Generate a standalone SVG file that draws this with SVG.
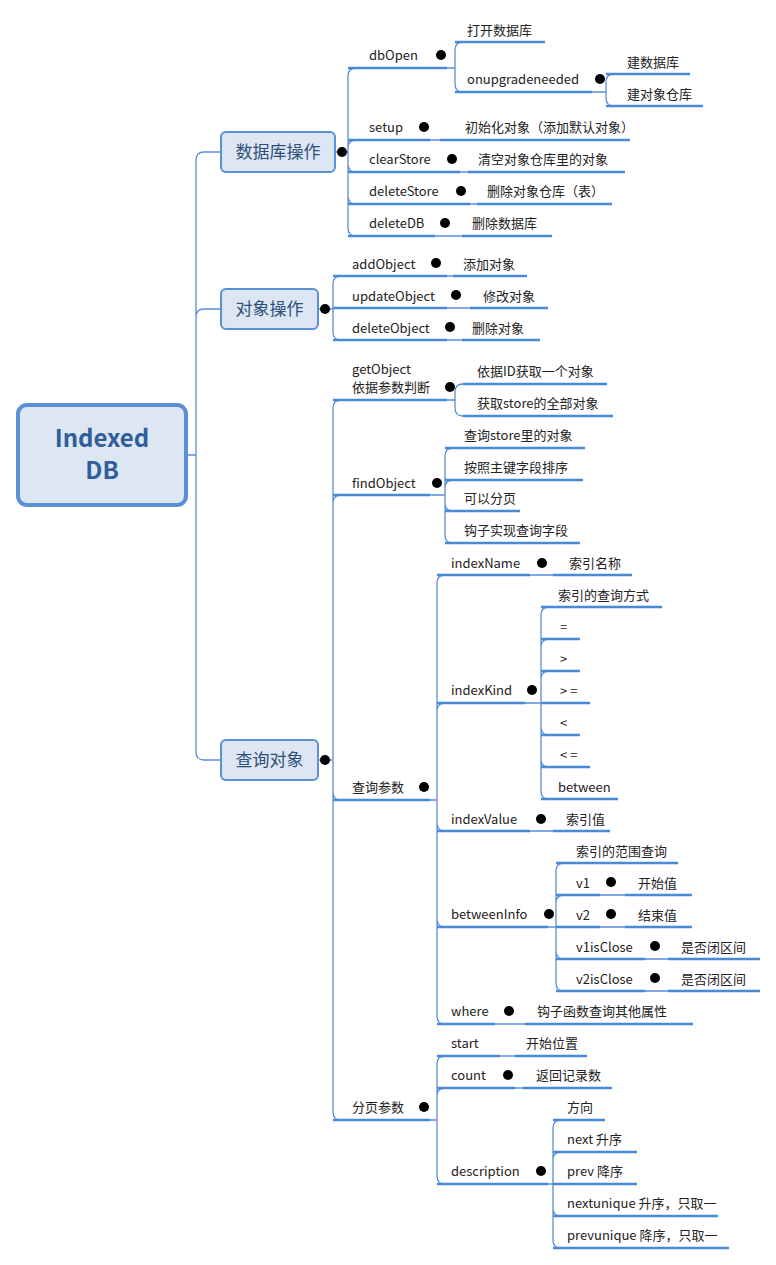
<svg xmlns="http://www.w3.org/2000/svg" width="776" height="1265" viewBox="0 0 776 1265">
<style>
text{font-family:"Microsoft YaHei","Noto Sans CJK SC","Liberation Sans",sans-serif;font-size:13px;fill:#222}
.c path{fill:none;stroke:#5b8fd6;stroke-width:1.3}
.u{stroke:#4a88d8;stroke-width:2.6}
.l1 rect{fill:#dde6f3;stroke:#5b8fd6;stroke-width:2}
.l1 text{font-size:17px;fill:#2f4f7a}
.k circle{fill:#fff;stroke:#b8b8b8;stroke-width:1}
.k line{stroke:#a0a0a0;stroke-width:1}
</style>
<defs>
<g id="m"><circle r="5"/><line x1="-2.5" x2="2.5" y1="0" y2="0"/></g>
</defs>
<rect width="776" height="1265" fill="#fff"/>
<g class="c">
<path d="M186 455H196V160Q196 152 204 152H221M186 455H196V317Q196 309 204 309H221M186 455H196V752Q196 760 204 760H221"/>
<path d="M335 152H348V76Q348 68 356 68M335 152H348V148Q348 140 356 140M335 152H348V164Q348 172 356 172M335 152H348V196Q348 204 356 204M335 152H348V228Q348 236 356 236"/>
<path d="M447 68H455V50Q455 42 463 42M447 68H455V84Q455 92 463 92M592 92H606V82Q606 74 614 74M592 92H606V98Q606 106 614 106"/>
<path d="M430 140H440M460 172H468M470 204H477M435 236H462"/>
<path d="M318 309H333V284Q333 276 341 276M318 309H333V308H341M318 309H333V332Q333 340 341 340M447 276H453M447 308H470M447 340H462"/>
<path d="M318 760H333V408Q333 400 341 400M318 760H333V503Q333 495 341 495M318 760H333V792Q333 800 341 800M318 760H333V1112Q333 1120 341 1120"/>
<path d="M447 400H455V392Q455 384 463 384M447 400H455V408Q455 416 463 416"/>
<path d="M430 495H445V456Q445 448 453 448M430 495H445V488Q445 480 453 480M430 495H445V503Q445 511 453 511M430 495H445V535Q445 543 453 543"/>
<path d="M430 800H437V583Q437 575 445 575M430 800H437V711Q437 703 445 703M430 800H437V823Q437 831 445 831M430 800H437V919Q437 927 445 927M430 800H437V1016Q437 1024 445 1024"/>
<path d="M530 575H553M530 831H553M495 1024H525"/>
<path d="M525 703H541V615Q541 607 549 607M525 703H541V647Q541 639 549 639M525 703H541V679Q541 671 549 671M525 703H549M525 703H541V727Q541 735 549 735M525 703H541V759Q541 767 549 767M525 703H541V791Q541 799 549 799"/>
<path d="M548 927H556V871Q556 863 564 863M548 927H556V903Q556 895 564 895M548 927H564M548 927H556V951Q556 959 564 959M548 927H556V983Q556 991 564 991"/>
<path d="M600 895H625M600 927H625M645 959H668M645 991H668"/>
<path d="M430 1120H437V1064Q437 1056 445 1056M430 1120H437V1096Q437 1088 445 1088M430 1120H437V1176Q437 1184 445 1184M500 1056H515M515 1088H523"/>
<path d="M548 1184H553V1128Q553 1120 561 1120M548 1184H553V1160Q553 1152 561 1152M548 1184H561M548 1184H553V1208Q553 1216 561 1216M548 1184H553V1240Q553 1248 561 1248"/>
</g>
<g id="root">
<rect x="18" y="405" width="168" height="100" rx="9" fill="#dde6f3" stroke="#5b8fd6" stroke-width="4"/>
<text x="102" y="447" text-anchor="middle" style="font-size:24px;font-weight:bold;fill:#2f5e9a">Indexed</text>
<text x="102" y="479" text-anchor="middle" style="font-size:24px;font-weight:bold;fill:#2f5e9a">DB</text>
</g>
<g id="n-db" class="l1"><rect x="221" y="132" width="114" height="40" rx="5"/><text x="278" y="158" text-anchor="middle">数据库操作</text></g>
<g id="n-obj" class="l1"><rect x="221" y="289" width="97" height="40" rx="5"/><text x="269.5" y="315" text-anchor="middle">对象操作</text></g>
<g id="n-q" class="l1"><rect x="221" y="740" width="97" height="40" rx="5"/><text x="269.5" y="766" text-anchor="middle">查询对象</text></g>
<g class="k">
<use href="#m" x="342" y="152"/><use href="#m" x="325" y="309"/><use href="#m" x="325" y="760"/>
<use href="#m" x="441" y="55"/><use href="#m" x="600" y="79"/><use href="#m" x="424" y="127"/><use href="#m" x="452" y="159"/><use href="#m" x="461" y="191"/><use href="#m" x="445" y="223"/>
<use href="#m" x="436" y="263"/><use href="#m" x="456" y="295"/><use href="#m" x="450" y="327"/>
<use href="#m" x="450" y="387"/><use href="#m" x="437" y="483"/><use href="#m" x="424" y="787"/><use href="#m" x="424" y="1107"/>
<use href="#m" x="542" y="563"/><use href="#m" x="532" y="690"/><use href="#m" x="541" y="819"/><use href="#m" x="549" y="914"/><use href="#m" x="509" y="1011"/>
<use href="#m" x="611" y="882"/><use href="#m" x="611" y="914"/><use href="#m" x="655" y="946"/><use href="#m" x="655" y="978"/>
<use href="#m" x="508" y="1075"/><use href="#m" x="541" y="1171"/>
</g>
<g id="leaves">
<g id="dbOpen"><text x="369" y="60">dbOpen</text><line class="u" x1="348" x2="447" y1="68" y2="68"/></g>
<g id="open"><text x="467" y="35">打开数据库</text><line class="u" x1="455" x2="545" y1="42" y2="42"/></g>
<g id="onup"><text x="467" y="84">onupgradeneeded</text><line class="u" x1="455" x2="592" y1="92" y2="92"/></g>
<g id="mkdb"><text x="627" y="67">建数据库</text><line class="u" x1="606" x2="690" y1="74" y2="74"/></g>
<g id="mkstore"><text x="627" y="99">建对象仓库</text><line class="u" x1="606" x2="703" y1="106" y2="106"/></g>
<g id="setup"><text x="369" y="132">setup</text><line class="u" x1="348" x2="430" y1="140" y2="140"/></g>
<g id="setup1"><text x="465" y="132">初始化对象（添加默认对象）</text><line class="u" x1="440" x2="630" y1="140" y2="140"/></g>
<g id="clear"><text x="369" y="164">clearStore</text><line class="u" x1="348" x2="460" y1="172" y2="172"/></g>
<g id="clear1"><text x="478" y="164">清空对象仓库里的对象</text><line class="u" x1="468" x2="625" y1="172" y2="172"/></g>
<g id="dels"><text x="369" y="196">deleteStore</text><line class="u" x1="348" x2="470" y1="204" y2="204"/></g>
<g id="dels1"><text x="487" y="196">删除对象仓库（表）</text><line class="u" x1="477" x2="612" y1="204" y2="204"/></g>
<g id="deldb"><text x="369" y="228">deleteDB</text><line class="u" x1="348" x2="435" y1="236" y2="236"/></g>
<g id="deldb1"><text x="472" y="228">删除数据库</text><line class="u" x1="462" x2="552" y1="236" y2="236"/></g>
<g id="add"><text x="352" y="269">addObject</text><line class="u" x1="333" x2="447" y1="276" y2="276"/></g>
<g id="add1"><text x="463" y="269">添加对象</text><line class="u" x1="453" x2="527" y1="276" y2="276"/></g>
<g id="upd"><text x="352" y="301">updateObject</text><line class="u" x1="333" x2="447" y1="308" y2="308"/></g>
<g id="upd1"><text x="483" y="301">修改对象</text><line class="u" x1="470" x2="548" y1="308" y2="308"/></g>
<g id="delo"><text x="352" y="333">deleteObject</text><line class="u" x1="333" x2="447" y1="340" y2="340"/></g>
<g id="delo1"><text x="472" y="333">删除对象</text><line class="u" x1="462" x2="540" y1="340" y2="340"/></g>
<g id="get"><text x="352" y="374">getObject</text><text x="352" y="392">依据参数判断</text><line class="u" x1="333" x2="447" y1="400" y2="400"/></g>
<g id="get1"><text x="477" y="376">依据ID获取一个对象</text><line class="u" x1="463" x2="607" y1="384" y2="384"/></g>
<g id="get2"><text x="477" y="408">获取store的全部对象</text><line class="u" x1="463" x2="613" y1="416" y2="416"/></g>
<g id="find"><text x="352" y="488">findObject</text><line class="u" x1="333" x2="430" y1="495" y2="495"/></g>
<g id="find1"><text x="464" y="440">查询store里的对象</text><line class="u" x1="445" x2="585" y1="448" y2="448"/></g>
<g id="find2"><text x="464" y="472">按照主键字段排序</text><line class="u" x1="445" x2="583" y1="480" y2="480"/></g>
<g id="find3"><text x="464" y="503">可以分页</text><line class="u" x1="445" x2="520" y1="511" y2="511"/></g>
<g id="find4"><text x="464" y="535">钩子实现查询字段</text><line class="u" x1="445" x2="580" y1="543" y2="543"/></g>
<g id="qp"><text x="352" y="792">查询参数</text><line class="u" x1="333" x2="430" y1="800" y2="800"/></g>
<g id="iname"><text x="451" y="568">indexName</text><line class="u" x1="437" x2="530" y1="575" y2="575"/></g>
<g id="iname1"><text x="569" y="568">索引名称</text><line class="u" x1="553" x2="632" y1="575" y2="575"/></g>
<g id="ikind"><text x="451" y="695">indexKind</text><line class="u" x1="437" x2="525" y1="703" y2="703"/></g>
<g id="k0"><text x="558" y="600">索引的查询方式</text><line class="u" x1="541" x2="662" y1="607" y2="607"/></g>
<g id="k1"><text x="560" y="632">=</text><line class="u" x1="541" x2="580" y1="639" y2="639"/></g>
<g id="k2"><text x="560" y="664">&gt;</text><line class="u" x1="541" x2="580" y1="671" y2="671"/></g>
<g id="k3"><text x="560" y="696">&gt; =</text><line class="u" x1="541" x2="590" y1="703" y2="703"/></g>
<g id="k4"><text x="560" y="728">&lt;</text><line class="u" x1="541" x2="580" y1="735" y2="735"/></g>
<g id="k5"><text x="560" y="760">&lt; =</text><line class="u" x1="541" x2="590" y1="767" y2="767"/></g>
<g id="k6"><text x="558" y="792">between</text><line class="u" x1="541" x2="618" y1="799" y2="799"/></g>
<g id="ival"><text x="451" y="824">indexValue</text><line class="u" x1="437" x2="530" y1="831" y2="831"/></g>
<g id="ival1"><text x="566" y="824">索引值</text><line class="u" x1="553" x2="610" y1="831" y2="831"/></g>
<g id="bi"><text x="451" y="919">betweenInfo</text><line class="u" x1="437" x2="548" y1="927" y2="927"/></g>
<g id="bi0"><text x="576" y="856">索引的范围查询</text><line class="u" x1="556" x2="678" y1="863" y2="863"/></g>
<g id="v1"><text x="576" y="888">v1</text><line class="u" x1="556" x2="600" y1="895" y2="895"/></g>
<g id="v1a"><text x="638" y="888">开始值</text><line class="u" x1="625" x2="692" y1="895" y2="895"/></g>
<g id="v2"><text x="576" y="920">v2</text><line class="u" x1="556" x2="600" y1="927" y2="927"/></g>
<g id="v2a"><text x="638" y="920">结束值</text><line class="u" x1="625" x2="692" y1="927" y2="927"/></g>
<g id="v1c"><text x="576" y="952">v1isClose</text><line class="u" x1="556" x2="645" y1="959" y2="959"/></g>
<g id="v1ca"><text x="681" y="952">是否闭区间</text><line class="u" x1="668" x2="760" y1="959" y2="959"/></g>
<g id="v2c"><text x="576" y="984">v2isClose</text><line class="u" x1="556" x2="645" y1="991" y2="991"/></g>
<g id="v2ca"><text x="681" y="984">是否闭区间</text><line class="u" x1="668" x2="760" y1="991" y2="991"/></g>
<g id="where"><text x="451" y="1016">where</text><line class="u" x1="437" x2="495" y1="1024" y2="1024"/></g>
<g id="where1"><text x="537" y="1016">钩子函数查询其他属性</text><line class="u" x1="525" x2="693" y1="1024" y2="1024"/></g>
<g id="pg"><text x="352" y="1112">分页参数</text><line class="u" x1="333" x2="430" y1="1120" y2="1120"/></g>
<g id="start"><text x="451" y="1048">start</text><line class="u" x1="437" x2="500" y1="1056" y2="1056"/></g>
<g id="start1"><text x="526" y="1048">开始位置</text><line class="u" x1="515" x2="587" y1="1056" y2="1056"/></g>
<g id="count"><text x="451" y="1080">count</text><line class="u" x1="437" x2="515" y1="1088" y2="1088"/></g>
<g id="count1"><text x="536" y="1080">返回记录数</text><line class="u" x1="523" x2="612" y1="1088" y2="1088"/></g>
<g id="desc"><text x="451" y="1176">description</text><line class="u" x1="437" x2="548" y1="1184" y2="1184"/></g>
<g id="d0"><text x="567" y="1112">方向</text><line class="u" x1="553" x2="605" y1="1120" y2="1120"/></g>
<g id="d1"><text x="567" y="1144">next 升序</text><line class="u" x1="553" x2="637" y1="1152" y2="1152"/></g>
<g id="d2"><text x="567" y="1176">prev 降序</text><line class="u" x1="553" x2="637" y1="1184" y2="1184"/></g>
<g id="d3"><text x="567" y="1208">nextunique 升序，只取一</text><line class="u" x1="553" x2="718" y1="1216" y2="1216"/></g>
<g id="d4"><text x="567" y="1240">prevunique 降序，只取一</text><line class="u" x1="553" x2="729" y1="1248" y2="1248"/></g>
</g>
</svg>
